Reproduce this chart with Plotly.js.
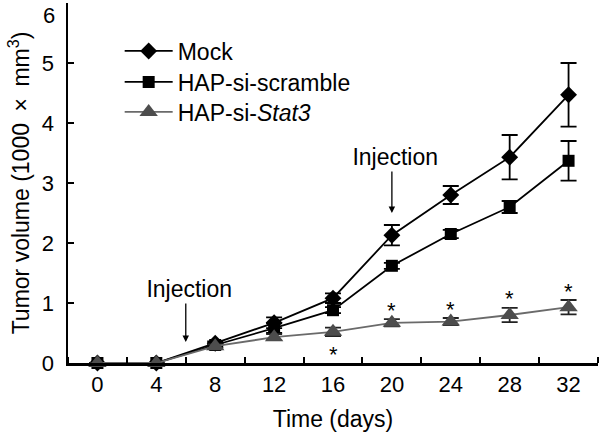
<!DOCTYPE html>
<html>
<head>
<meta charset="utf-8">
<script src="https://cdn.plot.ly/plotly-3.0.1.min.js"></script>
<style>html,body{margin:0;padding:0;background:#fff;}#chart{width:600px;height:437px;}</style>
</head>
<body>
<div id="chart"></div>
<script>
const days = [0, 4, 8, 12, 16, 20, 24, 28, 32];
const tickLabels = ['0', '4', '8', '12', '16', '20', '24', '28', '32'];
const yTicks = [0, 1, 2, 3, 4, 5];
const seriesNames = ['Mock', 'HAP-si-scramble', 'HAP-si-<i>Stat3</i>'];
const mock = [0, 0, 0.33, 0.67, 1.08, 2.13, 2.8, 3.43, 4.47];
const mockErr = [0, 0, 0.03, 0.09, 0.08, 0.17, 0.15, 0.37, 0.53];
const scramble = [0, 0, 0.3, 0.58, 0.88, 1.62, 2.15, 2.6, 3.37];
const scrambleErr = [0, 0, 0.03, 0.08, 0.05, 0.05, 0.07, 0.1, 0.33];
const stat3 = [0, 0, 0.28, 0.43, 0.52, 0.67, 0.69, 0.8, 0.93];
const stat3Err = [0, 0, 0.03, 0.05, 0.07, 0.06, 0.06, 0.12, 0.12];
// significance marks: +1 above the error bar, -1 below, 0 none
const starSide = [0, 0, 0, 0, -1, 1, 1, 1, 1];
// injection days and the level where each arrow points
const injectionDays = [6, 20];
const injectionArrowTip = [0.35, 2.5];

const FONT = 'Liberation Sans, Arial, sans-serif';

function trace(y, err, name, symbol, size, mcolor, lcolor, ecolor, legendId) {
  return {
    x: days, y: y, name: name, type: 'scatter', mode: 'lines+markers',
    legend: legendId,
    line: {color: lcolor, width: 1.8},
    marker: {symbol: symbol, size: size, color: mcolor},
    error_y: {type: 'data', array: err, visible: true, color: ecolor, thickness: 1.8, width: 8},
    cliponaxis: false
  };
}

const data = [
  trace(mock, mockErr, seriesNames[0], 'diamond', 13, '#000', '#000', '#000', 'legend'),
  trace(scramble, scrambleErr, seriesNames[1], 'square', 12, '#000', '#000', '#000', 'legend2'),
  trace(stat3, stat3Err, seriesNames[2], 'triangle-up', 16, '#4d4d4d', '#6a6a6a', '#222', 'legend3')
];

const annotations = [];
days.forEach((d, i) => {
  if (starSide[i] !== 0) {
    const yv = starSide[i] > 0 ? stat3[i] + stat3Err[i] : stat3[i] - stat3Err[i];
    annotations.push({x: d, y: yv, xref: 'x', yref: 'y', text: '*', showarrow: false,
      yshift: starSide[i] > 0 ? 9 : -18, font: {family: FONT, size: 22, color: '#000'}});
  }
});
// "6" tick label (shifted down in the original)
annotations.push({x: 0, xref: 'paper', xanchor: 'right', xshift: -11, y: 6, yref: 'y', yshift: -12,
  text: '6', showarrow: false, font: {family: FONT, size: 22, color: '#000'}});
// Injection labels with arrows
const injectionAy = [-53, -56];
injectionDays.forEach((d, i) => {
  annotations.push({x: d, y: injectionArrowTip[i], xref: 'x', yref: 'y',
    text: '\u00a0Injection', showarrow: true, ax: 0, ay: injectionAy[i],
    arrowhead: 2, arrowsize: 1, arrowwidth: 1.3, arrowcolor: '#000', standoff: 0,
    font: {family: FONT, size: 23, color: '#000'}});
});

function legendAt(y) {
  return {x: 0.0975, y: y, xanchor: 'left', yanchor: 'middle', bgcolor: 'rgba(0,0,0,0)',
    font: {family: FONT, size: 23, color: '#000'}, itemwidth: 48};
}

const layout = {
  width: 600, height: 437,
  margin: {l: 68, r: 2, t: 3, b: 74},
  paper_bgcolor: '#fff', plot_bgcolor: '#fff',
  font: {family: FONT, color: '#000', size: 22},
  showlegend: true,
  legend: legendAt(0.8667),
  legend2: legendAt(0.7806),
  legend3: legendAt(0.6972),
  xaxis: {
    range: [-2, 34], tickmode: 'array', tickvals: days, ticktext: tickLabels,
    ticks: '', showgrid: false, zeroline: false,
    showline: true, linecolor: '#000', linewidth: 2.5,
    tickfont: {family: FONT, size: 22, color: '#000'},
    minor: {tick0: 2, dtick: 4, ticks: 'inside', ticklen: 6, tickwidth: 2, tickcolor: '#000', showgrid: false},
    title: {text: 'Time (days)', font: {family: FONT, size: 23, color: '#000'}, standoff: 15},
    fixedrange: true
  },
  yaxis: {
    range: [0, 6], tickmode: 'array', tickvals: yTicks,
    ticks: 'inside', ticklen: 6, tickwidth: 2, tickcolor: '#000',
    showgrid: false, zeroline: false, showline: true, linecolor: '#000', linewidth: 2.5,
    tickfont: {family: FONT, size: 22, color: '#000'}, ticklabelstandoff: 7,
    title: {text: 'Tumor volume (1000\u2002×\u2002mm<sup>3</sup>)', font: {family: FONT, size: 23, color: '#000'}, standoff: 6},
    fixedrange: true
  },
  annotations: annotations
};

Plotly.newPlot('chart', data, layout, {staticPlot: true, displayModeBar: false});
</script>
</body>
</html>
